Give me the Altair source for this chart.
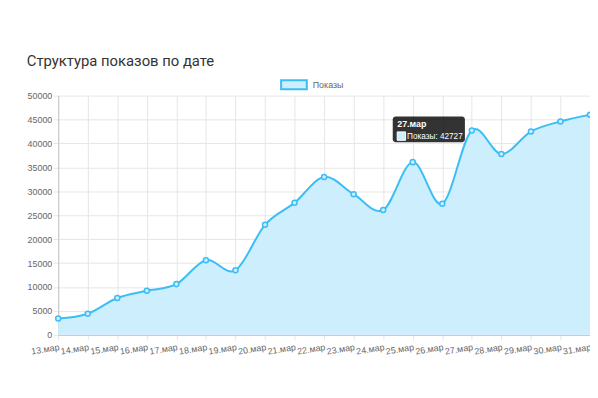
import altair as alt
import pandas as pd

dates = ["13.мар", "14.мар", "15.мар", "16.мар", "17.мар", "18.мар", "19.мар",
         "20.мар", "21.мар", "22.мар", "23.мар", "24.мар", "25.мар", "26.мар",
         "27.мар", "28.мар", "29.мар", "30.мар", "31.мар"]
views = [3400, 4400, 7700, 9200, 10600, 15600, 13500, 23000, 27600, 33000,
         29400, 26100, 36100, 27400, 42727, 37800, 42500, 44600, 46000]
series_name = "Показы"
y_ticks = [0, 5000, 10000, 15000, 20000, 25000, 30000, 35000, 40000, 45000, 50000]
tooltip_date = "27.мар"

LINE = "#3dbdf6"
FILL = "#cdeefd"
GRID = "#e6e6e6"
FONT = "Liberation Sans"
FS = 9

df = pd.DataFrame({"date": dates, "value": views, "series": series_name})

x_enc = alt.X("date:N", sort=dates, title=None,
              scale=alt.Scale(type="point", padding=0),
              axis=alt.Axis(labelAngle=351, labelAlign="right", labelBaseline="top",
                            labelFontSize=FS, labelColor="#666", labelFont=FONT,
                            labelPadding=3, tickSize=5, tickColor=GRID,
                            grid=True, gridColor=GRID, domainColor="#c4c4c4",
                            labelOverlap=False))
y_enc = alt.Y("value:Q", title=None,
              scale=alt.Scale(domain=[0, 50000], nice=False),
              axis=alt.Axis(values=y_ticks, tickCount=11, format="d", labelFontSize=FS,
                            labelColor="#666",
                            labelFont=FONT, labelPadding=1.5, tickSize=5,
                            labelOverlap=False, labelBound=False,
                            tickColor=GRID, grid=True, gridColor=GRID,
                            domainColor="#c4c4c4"))

base = alt.Chart(df)

area = base.mark_area(interpolate="cardinal", color=FILL, opacity=1).encode(x=x_enc, y=y_enc)
line = base.mark_line(interpolate="cardinal", color=LINE, strokeWidth=2).encode(x=x_enc, y=y_enc)

points = base.mark_point(filled=True, stroke=LINE, strokeWidth=1.5,
                         size=26, opacity=1).encode(
    x=x_enc, y=y_enc,
    fill=alt.Fill("series:N", scale=alt.Scale(range=[FILL]),
                  legend=alt.Legend(title=None, orient="none", legendX=224.5, legendY=-25,
                                    symbolType="M-1,-0.35H1V0.35H-1Z", symbolSize=676,
                                    symbolStrokeColor=LINE, symbolStrokeWidth=2,
                                    symbolOpacity=1,
                                    labelFontSize=FS, labelColor="#666", labelFont=FONT,
                                    labelOffset=5, padding=0)),
)

tip = base.transform_filter(alt.datum.date == tooltip_date).transform_calculate(
    line2="'" + series_name + ": ' + datum.value"
)
tip_box = tip.mark_rect(color="#000", opacity=0.8, cornerRadius=3,
                        xOffset=-80, x2Offset=-7, yOffset=-14, y2Offset=12).encode(
    x=x_enc, x2="date:N", y=y_enc, y2="value:Q")
tip_title = tip.mark_text(align="left", baseline="alphabetic", dx=-75.5, dy=-3,
                          fontSize=FS, fontWeight="bold", color="white", font=FONT).encode(
    x=x_enc, y=y_enc, text="date:N")
tip_swatch = tip.mark_rect(fill=FILL, stroke="white", strokeWidth=1,
                           xOffset=-75.5, x2Offset=-67, yOffset=1.5, y2Offset=10).encode(
    x=x_enc, x2="date:N", y=y_enc, y2="value:Q")
tip_text = tip.mark_text(align="left", baseline="alphabetic", dx=-65.5, dy=8.5,
                         fontSize=8.3, color="white", font=FONT).encode(
    x=x_enc, y=y_enc, text="line2:N")

chart = alt.layer(area, line, points, tip_box, tip_swatch, tip_title, tip_text).properties(
    width=538, height=242,
    autosize=alt.AutoSizeParams(type="none"),
    padding={"left": 50.8, "top": 86.5, "right": 0, "bottom": 40},
    title=alt.TitleParams("Структура показов по дате", anchor="start", frame="group",
                          dx=-31.8, font="Roboto", fontSize=15, fontWeight="normal",
                          color="#333", offset=2),
).configure_view(stroke=None)

chart.save("out.html", embed_options={"renderer": "svg", "actions": False})
